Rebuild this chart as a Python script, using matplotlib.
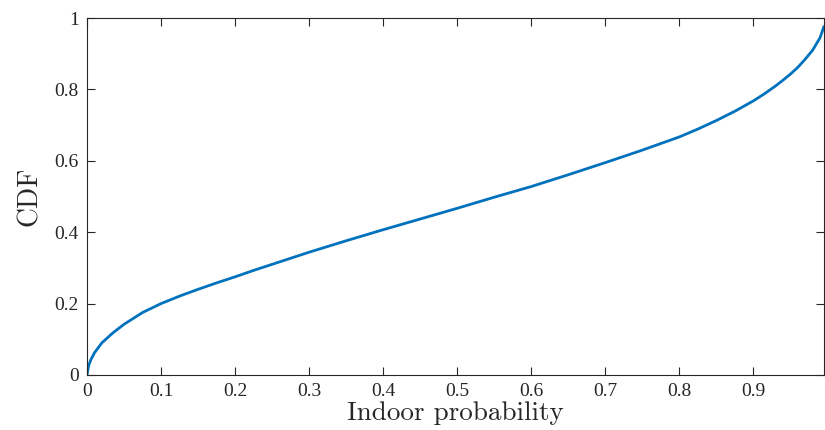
import numpy as np
import matplotlib
matplotlib.use("Agg")
import matplotlib.pyplot as plt

# valores (CDF de la probabilidad de estar en interior)
prob_indoor = [0, 0.002, 0.005, 0.01, 0.02, 0.035, 0.05, 0.075, 0.1, 0.125,
               0.15, 0.175, 0.2, 0.225, 0.25, 0.275, 0.3, 0.35, 0.4, 0.45,
               0.5, 0.55, 0.6, 0.65, 0.7, 0.75, 0.8, 0.825, 0.85, 0.875,
               0.9, 0.915, 0.93, 0.94, 0.95, 0.96, 0.97, 0.98, 0.99, 0.995]
cdf = [0, 0.025, 0.042, 0.062, 0.09, 0.118, 0.142, 0.175, 0.2, 0.221,
       0.24, 0.258, 0.275, 0.293, 0.31, 0.327, 0.344, 0.376, 0.407, 0.437,
       0.467, 0.498, 0.528, 0.561, 0.595, 0.63, 0.667, 0.689, 0.713, 0.739,
       0.768, 0.788, 0.81, 0.826, 0.843, 0.862, 0.885, 0.91, 0.945, 0.975]

xticks = [0, 0.1, 0.2, 0.3, 0.4, 0.5, 0.6, 0.7, 0.8, 0.9]
yticks = [0, 0.2, 0.4, 0.6, 0.8, 1]
xtick_labels = ["0", "0.1", "0.2", "0.3", "0.4", "0.5", "0.6", "0.7", "0.8", "0.9"]
ytick_labels = ["0", "0.2", "0.4", "0.6", "0.8", "1"]

fig = plt.figure(figsize=(8.25, 4.3), dpi=100)
ax = fig.add_axes([0.1055, 0.128, 0.893, 0.83])

ax.plot(prob_indoor, cdf, color="#0072BD", linewidth=2.0)

ax.set_xlim(0, prob_indoor[-1])
ax.set_ylim(0, 1)
ax.set_xticks(xticks)
ax.set_xticklabels(xtick_labels)
ax.set_yticks(yticks)
ax.set_yticklabels(ytick_labels)

ax.tick_params(direction="in", length=5.5, width=0.8, color="#262626",
               top=True, right=True, labelsize=14, labelcolor="#262626", pad=6)
for lab in ax.get_xticklabels() + ax.get_yticklabels():
    lab.set_fontfamily("Liberation Serif")
for s in ax.spines.values():
    s.set_color("#262626")
    s.set_linewidth(0.8)

ax.set_xlabel("Indoor probability", fontfamily="cmr10", fontsize=19.5,
              color="#262626", labelpad=1)
ax.set_ylabel("CDF", fontfamily="cmr10", fontsize=20, color="#262626",
              labelpad=8)

fig.savefig("out.png", dpi=100)
